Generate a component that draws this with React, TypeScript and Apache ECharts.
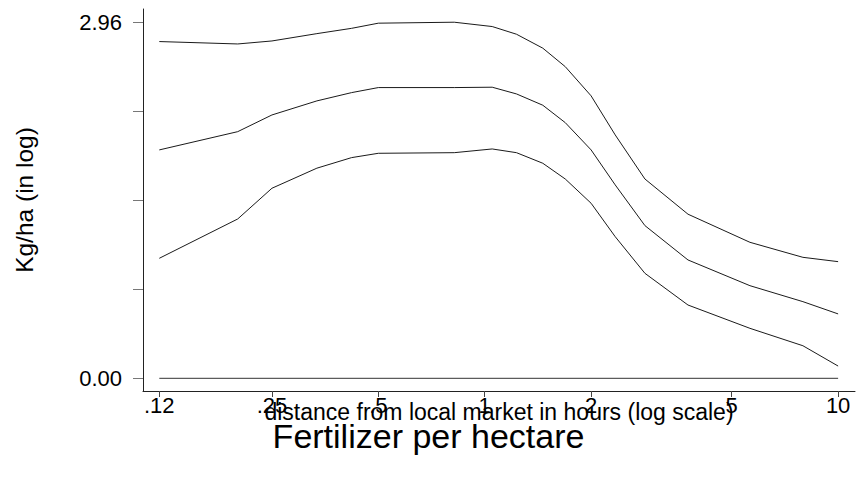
import React, { useEffect, useRef } from "react";
import * as echarts from "echarts";

// distance from local market in hours
const distance = [0.12, 0.2, 0.25, 0.335, 0.42, 0.5, 0.82, 1.05, 1.23, 1.46, 1.69, 2, 2.34, 2.84, 3.76, 5.63, 7.95, 10];
// upper confidence band
const upper = [2.803, 2.783, 2.808, 2.869, 2.913, 2.956, 2.964, 2.928, 2.864, 2.748, 2.594, 2.351, 2.026, 1.659, 1.366, 1.132, 1.007, 0.971];
// fitted values
const fitted = [1.901, 2.053, 2.192, 2.309, 2.378, 2.42, 2.42, 2.423, 2.367, 2.273, 2.128, 1.901, 1.61, 1.271, 0.985, 0.771, 0.638, 0.536];
// lower confidence band
const lower = [0.999, 1.326, 1.582, 1.749, 1.837, 1.873, 1.878, 1.909, 1.878, 1.79, 1.659, 1.457, 1.179, 0.874, 0.61, 0.416, 0.271, 0.102];
// reference line at zero
const zeroLine = [0, 0];
const zeroX = [0.12, 10];

const xTickValues = [0.12, 0.25, 0.5, 1, 2, 5, 10];
const xTickLabels = [".12", ".25", ".5", "1", "2", "5", "10"];
const yTickValues = [0, 0.74, 1.48, 2.22, 2.96];
const yLabelValues = [0, 2.96];

const FONT = "Liberation Sans, Arial, Helvetica, sans-serif";

export default function App() {
  const ref = useRef<HTMLDivElement>(null);

  useEffect(() => {
    document.body.style.margin = "0";
    if (!ref.current) return;
    const chart = echarts.init(ref.current, undefined, { renderer: "svg" });
    const lg = (v: number) => Math.log10(v);
    const toPts = (ys: number[]) => distance.map((d, i) => [lg(d), ys[i]]);
    const lineStyle = { color: "#1a1a1a", width: 1 };
    const mk = (name: string, data: number[][]) => ({
      name,
      type: "line",
      data,
      showSymbol: false,
      symbol: "none",
      lineStyle,
      silent: true,
    });

    chart.setOption({
      animation: false,
      backgroundColor: "#ffffff",
      title: {
        text: "Fertilizer per hectare",
        left: "center",
        top: 414,
        textStyle: { fontFamily: FONT, fontSize: 34, fontWeight: "normal", color: "#000" },
      },
      grid: { left: 143, right: 2, top: 9, bottom: 86, containLabel: false },
      xAxis: {
        type: "value",
        min: -0.96694,
        max: 1.04777,
        name: "distance from local market in hours (log scale)",
        nameLocation: "middle",
        nameGap: 9,
        nameMoveOverlap: false,
        nameTextStyle: { fontFamily: FONT, fontSize: 23, color: "#000" },
        axisLine: { show: true, onZero: false, lineStyle: { color: "#222", width: 1 } },
        axisTick: {
          show: true,
          length: 6,
          lineStyle: { color: "#444", width: 1 },
          customValues: xTickValues.map(lg),
        },
        axisLabel: {
          show: true,
          margin: 3,
          fontFamily: FONT,
          fontSize: 22,
          color: "#000",
          customValues: xTickValues.map(lg),
          formatter: (v: number) => {
            let best = 0;
            xTickValues.forEach((t, i) => {
              if (Math.abs(lg(t) - v) < Math.abs(lg(xTickValues[best]) - v)) best = i;
            });
            return xTickLabels[best];
          },
        },
        splitLine: { show: false },
      },
      yAxis: {
        type: "value",
        min: -0.1057,
        max: 3.074,
        name: "Kg/ha (in log)",
        nameLocation: "middle",
        nameGap: 106,
        nameMoveOverlap: false,
        nameTextStyle: { fontFamily: FONT, fontSize: 24.5, color: "#000" },
        axisLine: { show: true, onZero: false, lineStyle: { color: "#222", width: 1 } },
        axisTick: {
          show: true,
          length: 10,
          lineStyle: { color: "#777", width: 1 },
          customValues: yTickValues,
        },
        axisLabel: {
          show: true,
          margin: 21,
          fontFamily: FONT,
          fontSize: 22,
          color: "#000",
          customValues: yLabelValues,
          formatter: (v: number) => v.toFixed(2),
        },
        splitLine: { show: false },
      },
      series: [
        mk("upper", toPts(upper)),
        mk("fitted", toPts(fitted)),
        mk("lower", toPts(lower)),
        {
          name: "zero",
          type: "line",
          data: zeroX.map((d, i) => [lg(d), zeroLine[i]]),
          showSymbol: false,
          symbol: "none",
          lineStyle: { color: "#333", width: 1 },
          silent: true,
        },
      ],
    });
    return () => chart.dispose();
  }, []);

  return <div ref={ref} style={{ width: 857, height: 477 }} />;
}
